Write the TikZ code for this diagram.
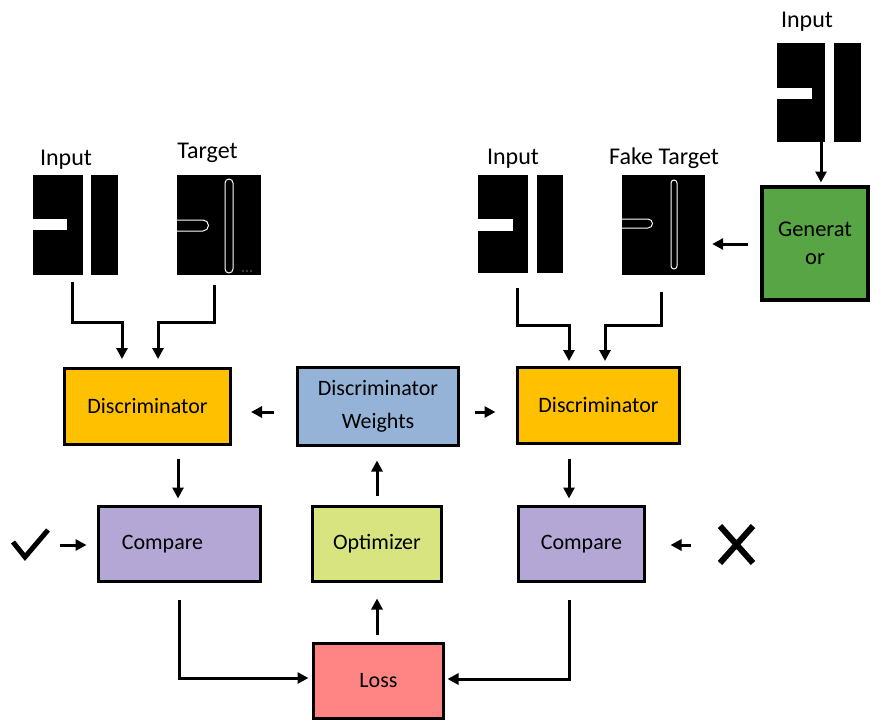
\documentclass[tikz,border=0pt]{standalone}
\usepackage{fontspec}
\setmainfont{Carlito}
\usetikzlibrary{arrows.meta}

\definecolor{discorange}{HTML}{FFC000}
\definecolor{weightblue}{HTML}{95B3D7}
\definecolor{cmppurple}{HTML}{B4A7D6}
\definecolor{optgreen}{HTML}{D7E47F}
\definecolor{losspink}{HTML}{FF8585}
\definecolor{gengreen}{HTML}{58A545}

\tikzset{
  box/.style={draw=black, line width=3pt, rectangle, inner sep=0pt, align=center,
              font=\fontsize{22}{33}\selectfont},
  arr/.style={line width=3pt, -{Triangle[length=11pt,width=11pt]}},
  lbl/.style={font=\fontsize{24}{28}\selectfont, inner sep=0pt, anchor=base},
  img/.style={fill=black, rectangle, inner sep=0pt, draw=none},
  trace/.style={draw=white, line width=1pt},
}

\begin{document}
\begin{tikzpicture}[x=1pt,y=-1pt]
\useasboundingbox (0,0) rectangle (872,721);
\fill[white] (0,0) rectangle (872,721);

% ---------- processing boxes ----------
\node[box, fill=discorange, minimum width=166pt, minimum height=76pt] (discL) at (147.5,406.5) {Discriminator};
\node[box, fill=weightblue, minimum width=161pt, minimum height=78pt] (weights) at (378,406.5) {Discriminator\\Weights};
\node[box, fill=discorange, minimum width=162pt, minimum height=76pt] (discR) at (598.5,405.5) {Discriminator};
\node[box, fill=cmppurple, minimum width=162pt, minimum height=75pt] (compL) at (179.5,544) {Compare\hspace*{34pt}};
\node[box, fill=optgreen, minimum width=129pt, minimum height=75pt] (opt) at (377,544) {Optimizer};
\node[box, fill=cmppurple, minimum width=126pt, minimum height=75pt] (compR) at (581.5,544) {Compare};
\node[box, fill=losspink, minimum width=130pt, minimum height=75pt] (loss) at (378.5,681) {Loss};
\node[box, fill=gengreen, line width=4pt, minimum width=106pt, minimum height=113pt,
      font=\fontsize{22.5}{28}\selectfont] (gen) at (815,243) {Generat\\or};

% ---------- image tiles ----------
% left input
\node[img, minimum width=85pt, minimum height=100pt] (inL) at (75.5,225) {};
\fill[white] (83,175) rectangle (91,275);
\fill[white] (33,219) rectangle (67,230);
% target
\node[img, minimum width=84pt, minimum height=100pt] (tgL) at (219,225) {};
\draw[trace, rounded corners=4pt] (225,179) rectangle (233,273);
\draw[trace] (177,220) -- (203,220) arc[start angle=-90, end angle=90, radius=5.5] -- (177,231);
\foreach \dx in {243,247,251} \fill[white] (\dx,271) circle[radius=0.7];
% right input
\node[img, minimum width=85pt, minimum height=98pt] (inR) at (520.5,224) {};
\fill[white] (528,175) rectangle (537,273);
\fill[white] (478,219) rectangle (513,231);
% fake target
\node[img, minimum width=83pt, minimum height=100pt] (fkR) at (663.5,225) {};
\draw[trace, rounded corners=3pt] (671,180) rectangle (677,269);
\draw[trace] (622,219) -- (648,219) arc[start angle=-90, end angle=90, radius=4.5] -- (622,228);
% generator input
\node[img, minimum width=84pt, minimum height=99pt] (inT) at (819,92.5) {};
\fill[white] (825,43) rectangle (834,142);
\fill[white] (777,88) rectangle (812,99);

% ---------- captions ----------
\node[lbl] (capInL) at (66,165) {Input};
\node[lbl] (capTg) at (207.5,158) {Target};
\node[lbl] (capInR) at (513,164) {Input};
\node[lbl] (capFk) at (664,164) {Fake Target};
\node[lbl] (capInT) at (807,27) {Input};

% ---------- verdict marks ----------
\draw[line width=5pt, line join=miter] (13,542) -- (25,557) -- (48,530);
\draw[line width=6pt] (720,526) -- (753,563) (753,526) -- (720,563);
\coordinate (okc) at (60,545);
\coordinate (noc) at (691,545);

% ---------- connectors ----------
\coordinate (jL) at (122,322);
\coordinate (jT) at (158,322);
\coordinate (jR) at (569,325);
\coordinate (jF) at (605,325);

\draw[arr, shorten <=7pt, shorten >=8pt] ([xshift=-3.5pt]inL.south) |- (jL) -- (jL |- discL.north);
\draw[arr, shorten <=10pt, shorten >=8pt] ([xshift=-5pt]tgL.south) |- (jT) -- (jT |- discL.north);
\draw[arr, shorten <=15pt, shorten >=5pt] ([xshift=-3.5pt]inR.south) |- (jR) -- (jR |- discR.north);
\draw[arr, shorten <=17pt, shorten >=5pt] ([xshift=-2.5pt]fkR.south) |- (jF) -- (jF |- discR.north);

\draw[arr, shorten >=2pt] ([xshift=2pt]inT.south) -- ([xshift=2pt]inT.south |- gen.north);
\draw[arr, shorten <=12pt, shorten >=7pt] ([yshift=-1pt]gen.west) -- ([yshift=-1pt]gen.west -| fkR.east);

\draw[arr, shorten <=22pt, shorten >=19pt] ([yshift=-5.5pt]weights.west) -- ([yshift=-5.5pt]weights.west -| discL.east);
\draw[arr, shorten <=14.5pt, shorten >=20.5pt] ([yshift=-5.5pt]weights.east) -- ([yshift=-5.5pt]weights.east -| discR.west);

\draw[arr, shorten <=12.5pt, shorten >=6.5pt] ([xshift=-1.5pt]compL.north |- discL.south) -- ([xshift=-1.5pt]compL.north);
\draw[arr, shorten <=13.5pt, shorten >=6.5pt] ([xshift=-12.5pt]compR.north |- discR.south) -- ([xshift=-12.5pt]compR.north);

\draw[arr, shorten <=9.5pt, shorten >=13.5pt] (opt.north) -- (opt.north |- weights.south);
\draw[arr, shorten <=7.5pt, shorten >=15.5pt] (opt.south |- loss.north) -- (opt.south);

\draw[arr, shorten <=16.5pt, shorten >=3.5pt] (compL.south) |- ([yshift=3pt]loss.west);
\draw[arr, shorten <=16.5pt, shorten >=2.5pt] ([xshift=-12.5pt]compR.south) |- ([yshift=2pt]loss.east);

\draw[arr, shorten >=10.5pt] (okc) -- (okc -| compL.west);
\draw[arr, shorten >=24.5pt] (noc) -- (noc -| compR.east);

\end{tikzpicture}
\end{document}
